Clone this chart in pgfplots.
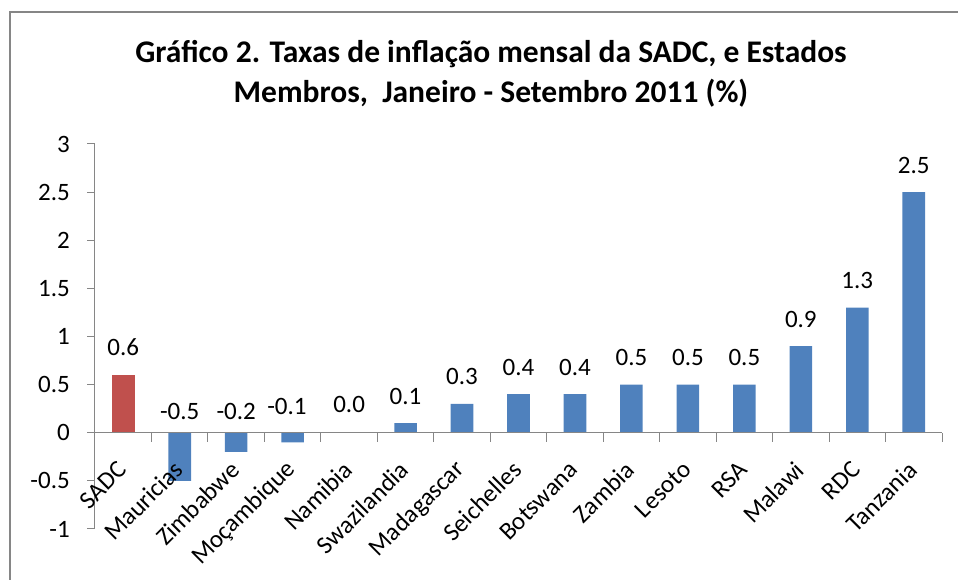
\documentclass[border=0pt]{standalone}
\usepackage{fontspec}
\setmainfont{Carlito}
\usepackage{pgfplots}
\pgfplotsset{compat=1.18}
\usepackage{pgfplotstable}
\definecolor{barblue}{HTML}{4F81BD}
\definecolor{barred}{HTML}{C0504D}
\definecolor{axgray}{HTML}{868686}

\pgfplotstableread{
x y
0 0.6
}\datasadc
\pgfplotstableread{
x y
1 -0.5
2 -0.2
3 -0.1
4 0.0
5 0.1
6 0.3
7 0.4
8 0.4
9 0.5
10 0.5
11 0.5
12 0.9
13 1.3
14 2.5
}\datamembers
\pgfplotstableread{
x ly lab
0 0.6 0.6
1 -0.06 -0.5
2 -0.06 -0.2
2.9 -0.01 -0.1
4 0.01 0.0
5 0.1 0.1
6 0.3 0.3
7 0.4 0.4
8 0.4 0.4
9 0.5 0.5
10 0.5 0.5
11 0.5 0.5
12 0.9 0.9
13 1.3 1.3
14 2.5 2.5
}\datalabels

\begin{document}
\begin{tikzpicture}[x=1pt,y=1pt]
\path[use as bounding box] (-95,-51) rectangle (863,529);
\draw[axgray, line width=1.3pt] (-85,-51) -- (-85,517) -- (863,517);
\node[anchor=base, font=\fontsize{31.5}{36}\selectfont\bfseries] at (396,466) {Gráfico 2. Taxas de inflação mensal da SADC, e Estados};
\node[anchor=base, font=\fontsize{31.5}{36}\selectfont\bfseries] at (396,426) {Membros,\ \ Janeiro - Setembro 2011 (\%)};
\begin{axis}[
  at={(0,0)}, anchor=south west, scale only axis,
  width=847pt, height=385pt,
  xmin=-0.5, xmax=14.5, ymin=-1, ymax=3,
  axis x line=middle, axis y line=left,
  axis on top,
  axis line style={-, axgray, line width=1pt},
  every tick/.style={axgray, line width=1pt},
  tick align=outside,
  ytick={-1,-0.5,0,0.5,1,1.5,2,2.5,3},
  yticklabels={-1,-0.5,0,0.5,1,1.5,2,2.5,3},
  major tick length=8pt, minor tick length=9pt,
  xtick={0,...,14},
  xticklabels={SADC,Mauricias,Zimbabwe,Moçambique,Namibia,Swazilandia,Madagascar,Seichelles,Botswana,Zambia,Lesoto,RSA,Malawi,RDC,Tanzania},
  major x tick style={draw=none},
  minor xtick={-0.5,0.5,...,14.5},
  tick label style={font=\fontsize{25}{30}\selectfont, text=black},
  xticklabel style={anchor=east, inner sep=0pt, xshift=-1pt, yshift=-25pt, rotate=45},
  yticklabel style={inner sep=0pt, xshift=-17pt},
  clip=false,
]
\addplot[ybar, bar width=22.6pt, bar shift=0pt, fill=barred, draw=none] table[x=x,y=y] {\datasadc};
\addplot[ybar, bar width=22.6pt, bar shift=0pt, fill=barblue, draw=none] table[x=x,y=y] {\datamembers};
\addplot[draw=none, nodes near coords, point meta=explicit symbolic,
  nodes near coords style={anchor=base, yshift=19pt, inner sep=0pt, font=\fontsize{25}{30}\selectfont, text=black}]
  table[x=x,y=ly,meta=lab] {\datalabels};
\end{axis}
\end{tikzpicture}
\end{document}
